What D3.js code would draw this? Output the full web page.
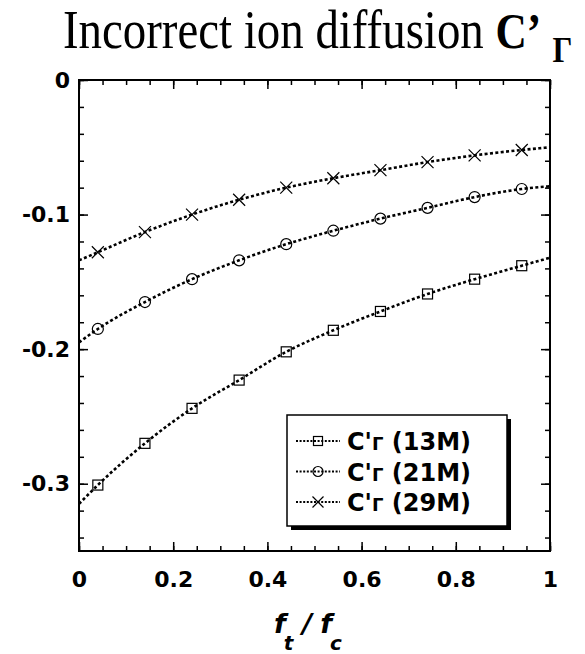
<!DOCTYPE html>
<html>
<head>
  <meta charset="utf-8">
  <title>Incorrect ion diffusion C'Γ</title>
  <style>
    body { margin: 0; background: #fff; }
    .tick text { font-family: "DejaVu Sans", sans-serif; font-weight: bold; font-size: 22px; fill: #000; }
    .tick line { stroke: #000; stroke-width: 1.5; }
  </style>
</head>
<body>
  <svg id="chart"></svg>

  <script src="https://d3js.org/d3.v7.min.js"></script>
  <script>
    // data
    const sampleX = [0, 0.04, 0.14, 0.24, 0.34, 0.44, 0.54, 0.64, 0.74, 0.84, 0.94, 1];
    const c13 = [-0.315, -0.301, -0.270, -0.244, -0.223, -0.202, -0.186, -0.172, -0.159, -0.148, -0.138, -0.132];
    const c21 = [-0.195, -0.185, -0.165, -0.148, -0.134, -0.122, -0.112, -0.103, -0.095, -0.087, -0.081, -0.079];
    const c29 = [-0.134, -0.128, -0.113, -0.100, -0.089, -0.080, -0.073, -0.067, -0.061, -0.056, -0.052, -0.050];
    const seriesNames = ["13M", "21M", "29M"];
    const markerTypes = ["square", "circle", "cross"];
    const xTicks = [0, 0.2, 0.4, 0.6, 0.8, 1];
    const yTicks = [0, -0.1, -0.2, -0.3];

    const width = 585, height = 654;
    const plotL = 79, plotR = 550, plotT = 80, plotB = 551;

    const svg = d3.select("#chart")
      .attr("width", width)
      .attr("height", height);

    const x = d3.scaleLinear().domain([0, 1]).range([plotL, plotR]);
    const y = d3.scaleLinear().domain([-0.35, 0]).range([plotB, plotT]);
    const fmt = d => String(+d.toFixed(2));

    // minor ticks
    const xMinor = d3.range(0, 1.0001, 0.05);
    const yMinor = d3.range(-0.34, 0.0001, 0.02);

    svg.append("g").attr("transform", `translate(0,${plotB})`)
      .call(d3.axisBottom(x).tickValues(xMinor).tickSize(-5).tickFormat(""));
    svg.append("g").attr("transform", `translate(0,${plotT})`)
      .call(d3.axisTop(x).tickValues(xMinor).tickSize(-5).tickFormat(""));
    svg.append("g").attr("transform", `translate(${plotL},0)`)
      .call(d3.axisLeft(y).tickValues(yMinor).tickSize(-5).tickFormat(""));
    svg.append("g").attr("transform", `translate(${plotR},0)`)
      .call(d3.axisRight(y).tickValues(yMinor).tickSize(-5).tickFormat(""));

    // major ticks with labels
    svg.append("g").attr("transform", `translate(0,${plotB})`)
      .call(d3.axisBottom(x).tickValues(xTicks).tickSize(-9).tickPadding(20).tickFormat(fmt));
    svg.append("g").attr("transform", `translate(0,${plotT})`)
      .call(d3.axisTop(x).tickValues(xTicks).tickSize(-9).tickFormat(""));
    svg.append("g").attr("transform", `translate(${plotL},0)`)
      .call(d3.axisLeft(y).tickValues(yTicks).tickSize(-9).tickPadding(9).tickFormat(fmt));
    svg.append("g").attr("transform", `translate(${plotR},0)`)
      .call(d3.axisRight(y).tickValues(yTicks).tickSize(-9).tickFormat(""));

    svg.selectAll(".domain").remove();

    svg.append("rect")
      .attr("x", plotL).attr("y", plotT)
      .attr("width", plotR - plotL).attr("height", plotB - plotT)
      .attr("fill", "none").attr("stroke", "#000").attr("stroke-width", 2);

    // curves
    const series = [c13, c21, c29].map((vals, i) => ({
      name: seriesNames[i],
      marker: markerTypes[i],
      points: vals.map((v, j) => ({ x: sampleX[j], y: v }))
    }));

    const line = d3.line()
      .x(d => x(d.x))
      .y(d => y(d.y))
      .curve(d3.curveMonotoneX);

    svg.append("g").selectAll("path")
      .data(series)
      .enter().append("path")
      .attr("d", d => line(d.points))
      .attr("fill", "none")
      .attr("stroke", "#000")
      .attr("stroke-width", 2.6)
      .attr("stroke-dasharray", "3,2.4");

    function drawMarker(g, type, s) {
      if (type === "square") {
        g.append("rect").attr("x", -s).attr("y", -s).attr("width", 2 * s).attr("height", 2 * s);
      } else if (type === "circle") {
        g.append("circle").attr("r", s + 0.5);
      } else {
        g.append("path").attr("d", `M${-s - 1},${-s - 1}L${s + 1},${s + 1}M${-s - 1},${s + 1}L${s + 1},${-s - 1}`);
      }
      g.attr("fill", "none").attr("stroke", "#000").attr("stroke-width", 1.2);
    }

    series.forEach(s => {
      svg.append("g").selectAll("g")
        .data(s.points.filter(p => p.x > 0 && p.x < 1))
        .enter().append("g")
        .attr("transform", p => `translate(${x(p.x)},${y(p.y)})`)
        .each(function() { drawMarker(d3.select(this), s.marker, 5); });
    });

    // legend
    const lg = svg.append("g").attr("transform", "translate(287,415)");
    lg.append("rect").attr("x", 4).attr("y", 4).attr("width", 220).attr("height", 111).attr("fill", "#000");
    lg.append("rect").attr("width", 220).attr("height", 111)
      .attr("fill", "#fff").attr("stroke", "#000").attr("stroke-width", 1.5);

    series.forEach((s, i) => {
      const row = lg.append("g").attr("transform", `translate(0,${26 + i * 30.5})`);
      row.append("line").attr("x1", 9).attr("x2", 53)
        .attr("stroke", "#000").attr("stroke-width", 1.8).attr("stroke-dasharray", "2,1.6");
      drawMarker(row.append("g").attr("transform", "translate(31,0)"), s.marker, 4.5);
      const t = row.append("text").attr("x", 60).attr("y", 9)
        .style("font-family", "'DejaVu Sans', sans-serif")
        .style("font-weight", "bold").style("font-size", "24px");
      t.append("tspan").text("C'");
      t.append("tspan").style("font-size", "18px").text("Γ");
      t.append("tspan").text(" (" + s.name + ")");
    });

    // title
    const title = svg.append("text")
      .attr("transform", "translate(63,48) scale(0.868,1)")
      .style("font-family", "'Liberation Serif', 'Times New Roman', serif")
      .style("font-size", "54px");
    title.append("tspan").text("Incorrect ion diffusion ");
    title.append("tspan").style("font-weight", "bold").style("font-size", "50px").text("C’");
    title.append("tspan").style("font-weight", "bold").style("font-size", "36px")
      .attr("dx", 13).attr("dy", 14).text("Γ");

    // x axis label
    const xl = svg.append("text")
      .attr("x", 274).attr("y", 633)
      .style("font-family", "'DejaVu Sans', sans-serif")
      .style("font-weight", "bold").style("font-style", "italic")
      .style("font-size", "27px");
    xl.append("tspan").text("f");
    xl.append("tspan").attr("dy", 17).attr("dx", -2).style("font-size", "20px").text("t");
    xl.append("tspan").attr("dy", -17).attr("dx", 9).text("/");
    xl.append("tspan").attr("dx", 8).text("f");
    xl.append("tspan").attr("dy", 17).attr("dx", -2).style("font-size", "20px").text("c");
  </script>
</body>
</html>
